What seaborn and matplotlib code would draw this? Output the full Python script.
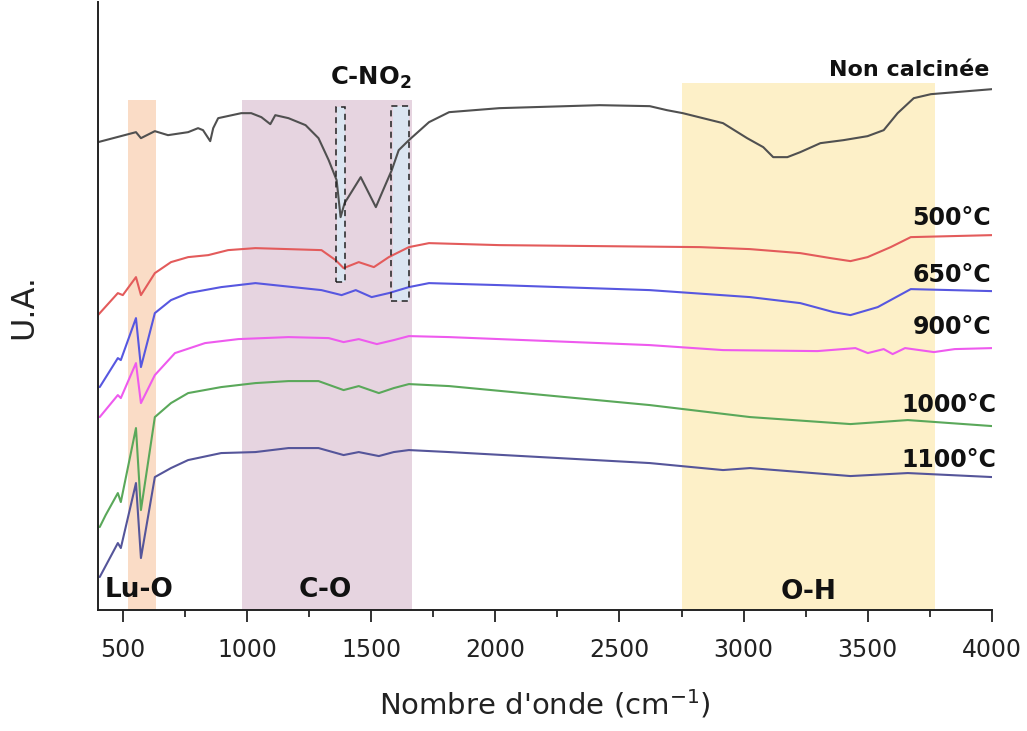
import numpy as np
import pandas as pd
import seaborn as sns
import matplotlib.pyplot as plt
from matplotlib.patches import Rectangle
from matplotlib.ticker import MultipleLocator

# ---------------- data (wavenumber cm-1, arbitrary units) ----------------
x_nc = [400, 553, 573, 629, 682, 763, 803, 823, 852, 864, 884, 977, 1017, 1058, 1094,
        1114, 1167, 1236, 1288, 1329, 1361, 1377, 1393, 1458, 1519, 1543, 1583, 1611,
        1652, 1733, 1814, 2016, 2420, 2622, 2691, 2755, 2836, 2917, 3014, 3079, 3119,
        3176, 3228, 3309, 3402, 3499, 3564, 3620, 3685, 3754, 4000]
y_nc = [4.58, 4.68, 4.62, 4.69, 4.65, 4.68, 4.72, 4.70, 4.59, 4.72, 4.82, 4.87, 4.87, 4.83, 4.76,
        4.85, 4.82, 4.75, 4.62, 4.40, 4.20, 3.83, 3.97, 4.23, 3.93, 4.07, 4.30, 4.50,
        4.60, 4.78, 4.88, 4.92, 4.95, 4.94, 4.90, 4.87, 4.82, 4.77, 4.62, 4.53, 4.43,
        4.43, 4.48, 4.57, 4.60, 4.64, 4.70, 4.87, 5.02, 5.06, 5.11]

x_500 = [400, 480, 500, 553, 573, 629, 694, 763, 844, 924, 1034, 1300, 1357, 1389, 1450,
         1511, 1571, 1652, 1733, 2016, 2824, 3026, 3228, 3350, 3430, 3499, 3592, 3673, 4000]
y_500 = [2.85, 3.07, 3.05, 3.23, 3.05, 3.27, 3.38, 3.43, 3.45, 3.50, 3.52, 3.50, 3.40, 3.32, 3.38,
         3.33, 3.43, 3.53, 3.57, 3.55, 3.53, 3.51, 3.47, 3.42, 3.39, 3.43, 3.53, 3.63, 3.65]

x_650 = [407, 480, 492, 553, 573, 629, 694, 763, 896, 1034, 1300, 1381, 1438, 1502, 1571,
         1652, 1733, 2016, 2622, 3026, 3228, 3362, 3430, 3540, 3673, 4000]
y_650 = [2.13, 2.42, 2.40, 2.82, 2.33, 2.87, 3.00, 3.07, 3.13, 3.17, 3.10, 3.05, 3.10, 3.03, 3.07,
         3.13, 3.17, 3.15, 3.10, 3.03, 2.97, 2.88, 2.85, 2.93, 3.11, 3.09]

x_900 = [407, 480, 492, 553, 573, 629, 710, 831, 965, 1167, 1329, 1389, 1450, 1523, 1591,
         1652, 1814, 2622, 2917, 3297, 3450, 3500, 3564, 3600, 3650, 3766, 3850, 4000]
y_900 = [1.83, 2.05, 2.02, 2.37, 1.97, 2.25, 2.47, 2.57, 2.61, 2.63, 2.62, 2.58, 2.61, 2.56, 2.60,
         2.64, 2.63, 2.55, 2.50, 2.49, 2.52, 2.47, 2.51, 2.46, 2.52, 2.48, 2.51, 2.52]

x_1000 = [407, 431, 480, 492, 553, 573, 629, 694, 763, 896, 1034, 1167, 1288, 1389, 1450,
          1531, 1591, 1652, 1814, 2622, 3026, 3430, 3661, 4000]
y_1000 = [0.73, 0.85, 1.07, 0.98, 1.72, 0.90, 1.83, 1.97, 2.07, 2.13, 2.17, 2.19, 2.19, 2.10, 2.14,
          2.07, 2.12, 2.16, 2.14, 1.95, 1.83, 1.76, 1.80, 1.74]

x_1100 = [407, 480, 492, 553, 573, 629, 694, 763, 896, 1034, 1167, 1288, 1389, 1450, 1531,
          1591, 1652, 1814, 2622, 2917, 3026, 3430, 3661, 4000]
y_1100 = [0.23, 0.57, 0.52, 1.17, 0.42, 1.23, 1.32, 1.40, 1.47, 1.48, 1.52, 1.52, 1.45, 1.48, 1.44,
          1.48, 1.50, 1.48, 1.37, 1.30, 1.32, 1.24, 1.27, 1.23]

series_names = ["Non calcinée", "500°C", "650°C", "900°C", "1000°C", "1100°C"]
series_x = [x_nc, x_500, x_650, x_900, x_1000, x_1100]
series_y = [y_nc, y_500, y_650, y_900, y_1000, y_1100]
series_colors = ["#505050", "#e35b5b", "#5757e0", "#ee5aee", "#5aa85a", "#55559a"]
label_x = [3988, 3996, 3996, 3996, 4018, 4018]
label_y = [5.30, 3.82, 3.25, 2.73, 1.95, 1.40]
label_size = [16, 17, 17, 17, 17, 17]

# shaded bands
band_names = ["Lu-O", "C-O", "O-H"]
band_lo = [522, 980, 2752]
band_hi = [635, 1664, 3770]
band_top = [5.00, 5.00, 5.17]
band_colors = ["#fadcc6", "#e6d4e0", "#fdf0c8"]
band_label_x = [565, 1316, 3261]
band_label_y = [0.10, 0.10, 0.08]

# C-NO2 boxes
no2_lo = [1357, 1581]
no2_hi = [1393, 1654]
no2_bottom = [3.18, 2.99]
no2_top = [4.93, 4.94]

YMIN, YMAX = -0.10, 5.98

# ---------------- plot ----------------
sns.set_style("white")
plt.rcParams["font.family"] = ["DejaVu Sans"]

fig = plt.figure(figsize=(10.27, 7.31), dpi=100)
ax = fig.add_axes([0.0954, 0.1655, 0.8705, 0.8315])

for lo, hi, top, c in zip(band_lo, band_hi, band_top, band_colors):
    ax.add_patch(Rectangle((lo, YMIN), hi - lo, top - YMIN, facecolor=c,
                           edgecolor="none", zorder=0))

for lo, hi, b, t in zip(no2_lo, no2_hi, no2_bottom, no2_top):
    ax.add_patch(Rectangle((lo + 6, b), hi - lo - 6, t - b, facecolor="#dbe5f1",
                           edgecolor="none", zorder=0.5))
    ax.add_patch(Rectangle((lo, b), hi - lo, t - b, facecolor="none", edgecolor="#222222",
                           linestyle=(0, (4, 3)), linewidth=1.1, zorder=3))

for name, xs, ys, c in zip(series_names, series_x, series_y, series_colors):
    df = pd.DataFrame({"x": xs, "y": ys})
    sns.lineplot(data=df, x="x", y="y", ax=ax, color=c, linewidth=1.5, sort=False,
                 estimator=None, zorder=2)

for name, lx, ly, fs in zip(series_names, label_x, label_y, label_size):
    ax.text(lx, ly, name, ha="right", va="center", fontsize=fs, fontweight="bold",
            color="#111111", zorder=4)

for name, lx, ly in zip(band_names, band_label_x, band_label_y):
    ax.text(lx, ly, name, ha="center", va="center", fontsize=19, fontweight="bold",
            color="#111111", zorder=4)

ax.text(1498, 5.22, "C-NO$_\\mathbf{2}$", ha="center", va="center", fontsize=17.5,
        fontweight="bold", color="#111111", zorder=4)

ax.set_xlim(400, 4000)
ax.set_ylim(YMIN, YMAX)
ax.set_xticks([500, 1000, 1500, 2000, 2500, 3000, 3500, 4000])
ax.xaxis.set_minor_locator(MultipleLocator(250))
ax.set_yticks([])
ax.tick_params(axis="x", which="major", direction="out", length=8.5, width=1.3,
               bottom=True, labelsize=17, colors="#222222", pad=12)
ax.tick_params(axis="x", which="minor", direction="out", length=5, width=1.3, bottom=True)

for side in ["top", "right"]:
    ax.spines[side].set_visible(False)
for side in ["left", "bottom"]:
    ax.spines[side].set_color("#222222")
    ax.spines[side].set_linewidth(1.4)

ax.set_xlabel("Nombre d'onde (cm$^{-1}$)", fontsize=21, color="#222222", labelpad=18)
ax.set_ylabel("U.A.", fontsize=23, color="#222222", labelpad=42)

fig.savefig("out.png", dpi=100)
